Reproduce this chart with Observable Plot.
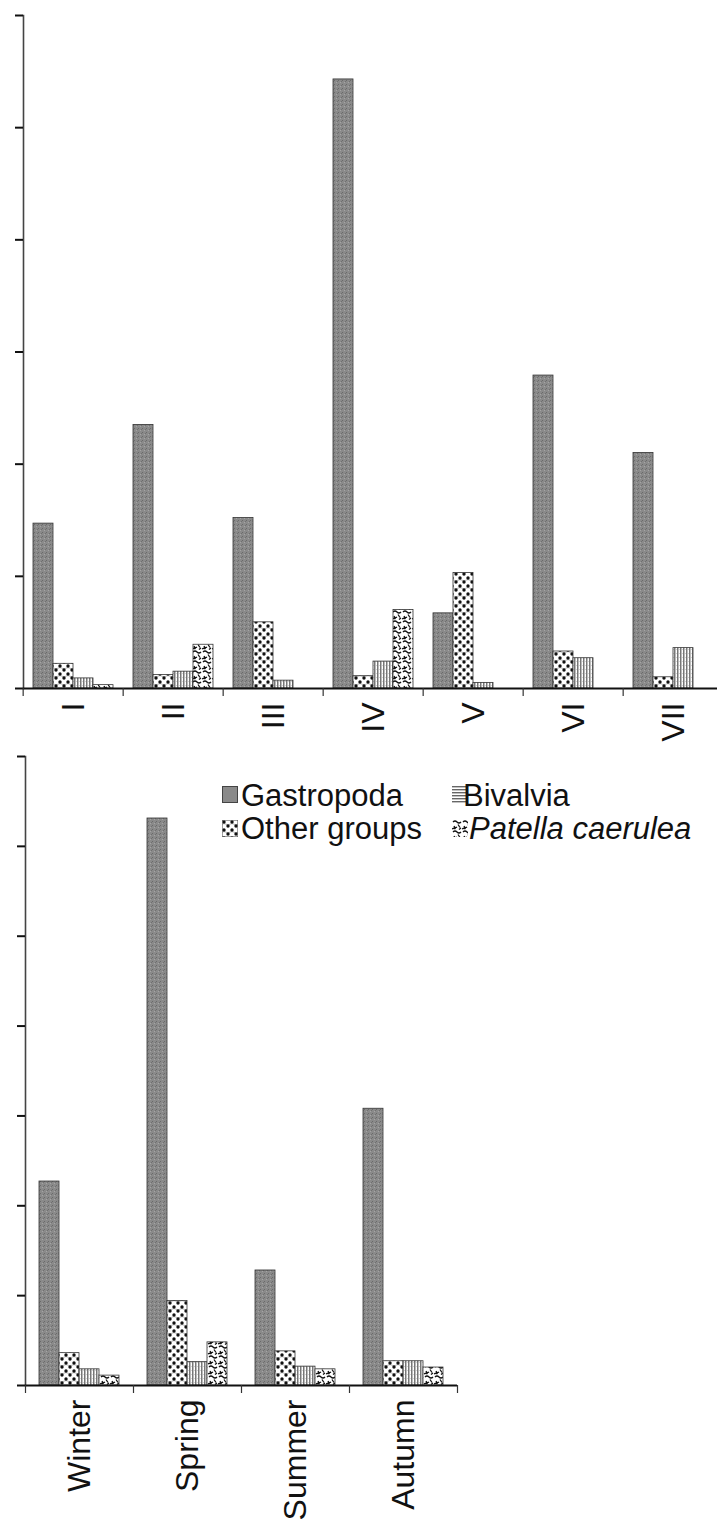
<!DOCTYPE html>
<html>
<head>
<meta charset="utf-8">
<script src="https://cdn.jsdelivr.net/npm/d3@7"></script>
<script src="https://cdn.jsdelivr.net/npm/@observablehq/plot@0.6"></script>
<style>
  html, body { margin: 0; padding: 0; background: #fff; }
  #wrap { position: relative; width: 717px; height: 1525px; overflow: hidden; font-family: "Liberation Sans", Arial, sans-serif; }
  #top, #bottom { position: absolute; left: 0; }
  #top { top: 0; }
  #bottom { top: 745px; }
  .leg { position: absolute; font-size: 31px; line-height: 31px; color: #111; white-space: nowrap; }
  .sw { position: absolute; width: 16px; height: 17px; }
</style>
</head>
<body>
<svg width="0" height="0" style="position:absolute">
  <defs>
    <pattern id="pGas" width="4" height="4" patternUnits="userSpaceOnUse">
      <rect width="4" height="4" fill="#8a8a8a"/>
      <rect x="0" y="0" width="1" height="1" fill="#6a6a6a"/>
      <rect x="2" y="2" width="1" height="1" fill="#a5a5a5"/>
      <rect x="3" y="1" width="1" height="1" fill="#707070"/>
    </pattern>
    <pattern id="pOther" width="8" height="8" patternUnits="userSpaceOnUse">
      <rect width="8" height="8" fill="#fff"/>
      <path d="M0 4.2 q2 -1.2 4 0 t4 0" stroke="#999" fill="none" stroke-width="0.7"/>
      <circle cx="2" cy="2" r="1.7" fill="#111"/>
      <circle cx="6" cy="6" r="1.7" fill="#111"/>
    </pattern>
    <pattern id="pBiv" width="3" height="4" patternUnits="userSpaceOnUse">
      <rect width="3" height="4" fill="#fff"/>
      <rect width="1.5" height="4" fill="#777"/>
      <rect x="1.5" y="1" width="1.5" height="0.6" fill="#bbb"/>
    </pattern>
    <pattern id="pBivH" width="4" height="3" patternUnits="userSpaceOnUse">
      <rect width="4" height="3" fill="#fff"/>
      <rect width="4" height="1.4" fill="#666"/>
    </pattern>
    <pattern id="pPat" width="10" height="10" patternUnits="userSpaceOnUse">
      <rect width="10" height="10" fill="#fff"/>
      <path d="M1 2 q2 -2 4 0 t4 0 M2 6 q1 2.5 3 1 M6 4.5 l2 3 M0 9 q2 -1.5 3.5 0 M7 9.5 l2 -1.5" stroke="#111" stroke-width="1.3" fill="none"/>
    </pattern>
  </defs>
</svg>
<div id="wrap">
  <div id="top"></div>
  <div id="bottom"></div>
  <div class="sw" style="left:222px;top:786px;background:#8a8a8a;outline:1px solid #444;outline-offset:-1px"></div>
  <div class="leg" style="left:241px;top:780px">Gastropoda</div>
  <svg class="sw" style="left:452px;top:786px" viewBox="0 0 16 17"><rect width="16" height="17" fill="url(#pBivH)"/></svg>
  <div class="leg" style="left:463px;top:780px">Bivalvia</div>
  <svg class="sw" style="left:222px;top:820px" viewBox="0 0 16 17"><rect width="16" height="17" fill="url(#pOther)" stroke="#444" stroke-width="1"/></svg>
  <div class="leg" style="left:241px;top:813px">Other groups</div>
  <svg class="sw" style="left:452px;top:820px" viewBox="0 0 16 17"><rect width="16" height="17" fill="url(#pPat)"/></svg>
  <div class="leg" style="left:469px;top:813px;font-style:italic">Patella caerulea</div>
</div>
<script>
// ---- data ----
const taxa = ["Gastropoda", "Other groups", "Bivalvia", "Patella caerulea"];
const sites = ["I", "II", "III", "IV", "V", "VI", "VII"];
const gastropodaSite = [1.47, 2.35, 1.52, 5.43, 0.67, 2.79, 2.10];
const otherSite      = [0.22, 0.12, 0.59, 0.11, 1.03, 0.33, 0.10];
const bivalviaSite   = [0.09, 0.15, 0.07, 0.24, 0.05, 0.27, 0.36];
const patellaSite    = [0.03, 0.39, 0.00, 0.70, 0.00, 0.00, 0.00];

const seasons = ["Winter", "Spring", "Summer", "Autumn"];
const gastropodaSeason = [2.27, 6.31, 1.28, 3.08];
const otherSeason      = [0.36, 0.94, 0.38, 0.27];
const bivalviaSeason   = [0.18, 0.26, 0.21, 0.27];
const patellaSeason    = [0.11, 0.48, 0.18, 0.20];

const yTicksTop = [0, 1, 2, 3, 4, 5, 6];
const yTicksBottom = [0, 1, 2, 3, 4, 5, 6, 7];

const fills = ["url(#pGas)", "url(#pOther)", "url(#pBiv)", "url(#pPat)"];

const siteSeries = [gastropodaSite, otherSite, bivalviaSite, patellaSite];
const seasonSeries = [gastropodaSeason, otherSeason, bivalviaSeason, patellaSeason];

const siteData = sites.flatMap((s, i) => taxa.map((t, j) => ({group: s, taxon: t, value: siteSeries[j][i]})));
const seasonData = seasons.flatMap((s, i) => taxa.map((t, j) => ({group: s, taxon: t, value: seasonSeries[j][i]})));

function chart({data, groups, yMax, yTicks, width, height, marginTop, marginBottom, marginLeft, marginRight, padOuter, groupW, endTick}) {
  return Plot.plot({
    width, height, marginTop, marginBottom, marginLeft, marginRight,
    style: {fontFamily: "'Liberation Sans', Arial, sans-serif", background: "transparent", color: "#111"},
    fx: {domain: groups, padding: 0, label: null, axis: null},
    x: {domain: taxa, paddingInner: 0, paddingOuter: padOuter, axis: null},
    y: {domain: [0, yMax], axis: null, label: null},
    color: {domain: taxa, range: fills},
    marks: [
      Plot.barY(data, {fx: "group", x: "taxon", y: "value", fill: "taxon", stroke: "#333", strokeWidth: 0.8}),
      Plot.frame({anchor: "left", facetAnchor: "left", stroke: "#444", strokeWidth: 1.6}),
      Plot.ruleY([0], {stroke: "#111", strokeWidth: 2}),
      Plot.axisY({ticks: yTicks, tickSize: 8, tickFormat: () => "", label: null, stroke: "#111", strokeWidth: 2}),
      Plot.axisFx({anchor: "bottom", tickSize: 8, tickFormat: () => "", label: null, dx: -groupW / 2, stroke: "#333", strokeWidth: 1.2}),
      endTick ? Plot.axisFx({anchor: "bottom", ticks: [groups[groups.length - 1]], tickSize: 8, tickFormat: () => "", label: null, dx: groupW / 2, stroke: "#333", strokeWidth: 1.2}) : null,
      Plot.axisFx({anchor: "bottom", tickSize: 0, tickPadding: 14, tickRotate: -90, fontSize: 32, fill: "#111", label: null})
    ]
  });
}

document.getElementById("top").append(chart({
  data: siteData, groups: sites, yMax: 6, yTicks: yTicksTop,
  width: 717, height: 745, marginTop: 15, marginBottom: 57, marginLeft: 21, marginRight: -8.7,
  padOuter: 0.5, groupW: 100.67, endTick: false
}));

document.getElementById("bottom").append(chart({
  data: seasonData, groups: seasons, yMax: 7, yTicks: yTicksBottom,
  width: 717, height: 780, marginTop: 11, marginBottom: 140, marginLeft: 25, marginRight: 260,
  padOuter: 0.7, groupW: 108, endTick: true
}));
</script>
</body>
</html>
